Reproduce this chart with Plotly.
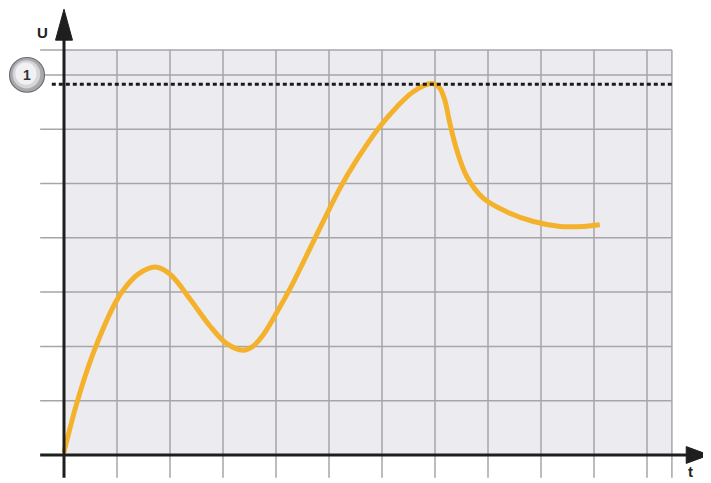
import plotly.graph_objects as go

# Curve samples (x in grid units of t, y in grid units of U)
t_vals = [0.0, 0.24, 0.55, 0.96, 1.12, 1.40, 1.72, 2.0, 2.38, 2.75, 3.07, 3.38, 3.55,
          3.75, 4.0, 4.30, 4.70, 5.21, 5.52, 5.96, 6.28, 6.59, 6.93, 7.08, 7.18, 7.28,
          7.41, 7.60, 7.91, 8.35, 8.86, 9.36, 9.80, 10.11]
u_vals = [0.05, 0.95, 1.87, 2.79, 3.04, 3.33, 3.46, 3.33, 2.87, 2.38, 2.05, 1.93, 1.99,
          2.20, 2.60, 3.13, 3.92, 4.92, 5.43, 6.05, 6.41, 6.69, 6.84, 6.77, 6.55, 6.11,
          5.62, 5.13, 4.73, 4.48, 4.30, 4.21, 4.21, 4.24]

grid_x = [1, 2, 3, 4, 5, 6, 7, 8, 9, 10, 11]
grid_y = [1, 2, 3, 4, 5, 6, 7]
level_1 = 6.83
badge_label = "1"
y_label = "U"
x_label = "t"

# page has an 8px body margin: figure covers picture pixels 8..711 x 8..483
X_MIN, X_MAX = -1.0566, 12.2075
Y_MIN, Y_MAX = -0.5157, 8.232
GX0, GX1 = -0.45, 11.47     # grid extent
GY0, GY1 = -0.42, 7.46
GRID = "#a6a6a9"
AX = "#1e1e1e"

shapes = []
shapes.append(dict(type="rect", x0=0, x1=GX1, y0=0, y1=GY1, fillcolor="#ececf0",
                   line=dict(width=0), layer="below"))
for gx in grid_x + [GX1]:
    shapes.append(dict(type="line", x0=gx, x1=gx, y0=GY0, y1=GY1,
                       line=dict(color=GRID, width=1.5), layer="below"))
for gy in grid_y + [GY1]:
    shapes.append(dict(type="line", x0=GX0, x1=GX1, y0=gy, y1=gy,
                       line=dict(color=GRID, width=1.5), layer="below"))
shapes.append(dict(type="line", x0=-0.23, x1=GX1, y0=level_1, y1=level_1,
                   line=dict(color="#1a1a1a", width=3, dash="4px,3px")))
shapes.append(dict(type="line", x0=0, x1=0, y0=GY0, y1=7.66, line=dict(color=AX, width=3)))
shapes.append(dict(type="line", x0=GX0, x1=11.76, y0=0, y1=0, line=dict(color=AX, width=3)))
shapes.append(dict(type="path", path="M -0.16 7.64 L 0.16 7.64 L 0 8.21 Z",
                   fillcolor=AX, line=dict(color=AX, width=1)))
shapes.append(dict(type="path", path="M 11.74 -0.155 L 11.74 0.155 L 12.17 0 Z",
                   fillcolor=AX, line=dict(color=AX, width=1)))
# badge
cx, cy = -0.698, 7.0
rx, ry = 0.33, 0.32
shapes.append(dict(type="circle", x0=cx - rx, x1=cx + rx, y0=cy - ry, y1=cy + ry,
                   fillcolor="#a9a9ad", line=dict(color="#6f6f73", width=1.2)))
shapes.append(dict(type="circle", x0=cx - 0.27, x1=cx + 0.25, y0=cy - 0.25, y1=cy + 0.27,
                   fillcolor="#d6d6d9", line=dict(width=0)))
shapes.append(dict(type="circle", x0=cx - 0.22, x1=cx + 0.18, y0=cy - 0.18, y1=cy + 0.23,
                   fillcolor="#f1f1f3", line=dict(width=0)))

fig = go.Figure()
fig.add_trace(go.Scatter(x=t_vals, y=u_vals, mode="lines",
                         line=dict(color="#f4b22c", width=5, shape="spline", smoothing=1.0),
                         hoverinfo="skip", showlegend=False))

annotations = [
    dict(x=cx, y=cy, text="<b>%s</b>" % badge_label, showarrow=False,
         font=dict(family="Liberation Sans, Arial", size=14, color="#333333")),
    dict(x=-0.40, y=7.78, text="<b>%s</b>" % y_label, showarrow=False,
         font=dict(family="Liberation Sans, Arial", size=15, color="#222222")),
    dict(x=11.83, y=-0.31, text="<b>%s</b>" % x_label, showarrow=False,
         font=dict(family="Liberation Sans, Arial", size=15, color="#222222")),
]

fig.update_layout(
    width=703, height=475, margin=dict(l=0, r=0, t=0, b=0),
    paper_bgcolor="white", plot_bgcolor="white",
    shapes=shapes, annotations=annotations,
    xaxis=dict(range=[X_MIN, X_MAX], visible=False, fixedrange=True),
    yaxis=dict(range=[Y_MIN, Y_MAX], visible=False, fixedrange=True),
)
fig.write_html("out.html")
